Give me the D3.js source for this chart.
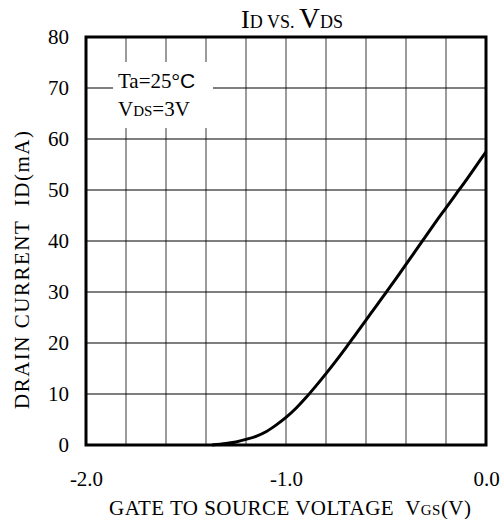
<!DOCTYPE html>
<html>
<head>
<meta charset="utf-8">
<script src="https://cdn.jsdelivr.net/npm/d3@7"></script>
<style>
  body { margin: 0; background: #fff; }
  svg { display: block; font-family: "Liberation Serif", "Times New Roman", serif; }
</style>
</head>
<body>
<div id="chart"></div>
<script>
// ID vs VGS curve
const vgs = [-1.37, -1.30, -1.25, -1.20, -1.15, -1.10, -1.05, -1.00, -0.95, -0.90, -0.85,
             -0.80, -0.75, -0.70, -0.65, -0.60, -0.55, -0.50, -0.45, -0.40, -0.35,
             -0.30, -0.25, -0.20, -0.15, -0.10, -0.05, 0.00]
const id_ma = [0, 0.3, 0.6, 1.1, 1.7, 2.6, 3.9, 5.4, 7.2, 9.3, 11.6,
               14.0, 16.5, 19.1, 21.8, 24.5, 27.2, 29.9, 32.6, 35.4, 38.2,
               41.0, 43.8, 46.5, 49.2, 51.9, 54.7, 57.5]

const x_grid = d3.range(-2.0, 0.01, 0.2)
const y_grid = d3.range(0, 81, 10)
const x_labels = [-2.0, -1.0, 0.0]

const width = 503, height = 519
const M = { top: 37, right: 17, bottom: 74, left: 86 }

const svg = d3.select('#chart').append('svg')
  .attr('width', width)
  .attr('height', height)

const x = d3.scaleLinear().domain([-2, 0]).range([M.left, width - M.right])
const y = d3.scaleLinear().domain([0, 80]).range([height - M.bottom, M.top])

// grid
svg.append('g')
  .selectAll('line')
  .data(x_grid.slice(1, -1))
  .enter().append('line')
    .attr('x1', (d) => x(d)).attr('x2', (d) => x(d))
    .attr('y1', y(80)).attr('y2', y(0))
    .attr('stroke', '#7a7a7a')
    .attr('stroke-width', 1.5)

svg.append('g')
  .selectAll('line')
  .data(y_grid.slice(1, -1))
  .enter().append('line')
    .attr('x1', x(-2)).attr('x2', x(0))
    .attr('y1', (d) => y(d)).attr('y2', (d) => y(d))
    .attr('stroke', '#000')
    .attr('stroke-width', 1.2)

// legend box knocks out the grid
svg.append('rect')
  .attr('x', 113).attr('y', 62)
  .attr('width', 100).attr('height', 66)
  .attr('fill', '#fff')

// curve
let line = d3.line()
  .x((d, i) => x(vgs[i]))
  .y((d) => y(d))
  .curve(d3.curveMonotoneX)

svg.append('path')
  .datum(id_ma)
  .attr('d', line)
  .attr('fill', 'none')
  .attr('stroke', '#000')
  .attr('stroke-width', 3)
  .attr('stroke-linejoin', 'round')

// frame
svg.append('rect')
  .attr('x', x(-2)).attr('y', y(80))
  .attr('width', x(0) - x(-2)).attr('height', y(0) - y(80))
  .attr('fill', 'none')
  .attr('stroke', '#000')
  .attr('stroke-width', 3)

// axes labels (plain hyphen, as on the datasheet)
let fmt1 = (d) => d3.format('.1f')(d).replace('\u2212', '-')

let y_axis = d3.axisLeft(y).tickValues(y_grid).tickSize(0).tickPadding(17)
  .tickFormat(d3.format('d'))
svg.append('g')
  .attr('transform', 'translate(' + M.left + ',0)')
  .call(y_axis)
  .call((g) => g.select('.domain').remove())
  .selectAll('text')
    .attr('font-family', '"Liberation Serif", serif')
    .attr('font-size', 21)
    .attr('fill', '#000')

let x_axis = d3.axisBottom(x).tickValues(x_labels).tickSize(0).tickPadding(26)
  .tickFormat(fmt1)
svg.append('g')
  .attr('transform', 'translate(0,' + y(0) + ')')
  .call(x_axis)
  .call((g) => g.select('.domain').remove())
  .selectAll('text')
    .attr('font-family', '"Liberation Serif", serif')
    .attr('font-size', 21)
    .attr('fill', '#000')

// titles
let title = svg.append('text')
  .attr('x', 292).attr('y', 28)
  .attr('text-anchor', 'middle')
  .attr('font-size', 18)
title.append('tspan').attr('font-size', 26).text('I')
title.append('tspan').text('D VS. ')
title.append('tspan').attr('font-size', 29).text('V')
title.append('tspan').text('DS')

let xt = svg.append('text')
  .attr('x', 290).attr('y', 515)
  .attr('text-anchor', 'middle')
  .attr('font-size', 21)
  .attr('textLength', 362)
  .attr('lengthAdjust', 'spacing')
xt.append('tspan').text('GATE TO SOURCE VOLTAGE\u00a0 V')
xt.append('tspan').attr('font-size', 15).text('GS')
xt.append('tspan').text('(V)')

svg.append('text')
  .attr('transform', 'translate(29,270) rotate(-90)')
  .attr('text-anchor', 'middle')
  .attr('font-size', 21)
  .attr('textLength', 278)
  .attr('lengthAdjust', 'spacing')
  .text('DRAIN CURRENT\u00a0 ID(mA)')

// legend text
let l1 = svg.append('text').attr('x', 118).attr('y', 88).attr('font-size', 21)
l1.append('tspan').text('Ta=25°')
l1.append('tspan').attr('font-family', '"Liberation Sans", Arial, sans-serif').text('C')

let l2 = svg.append('text').attr('x', 118).attr('y', 116).attr('font-size', 21)
l2.append('tspan').text('V')
l2.append('tspan').attr('font-size', 15).text('DS')
l2.append('tspan').text('=3V')
</script>
</body>
</html>
